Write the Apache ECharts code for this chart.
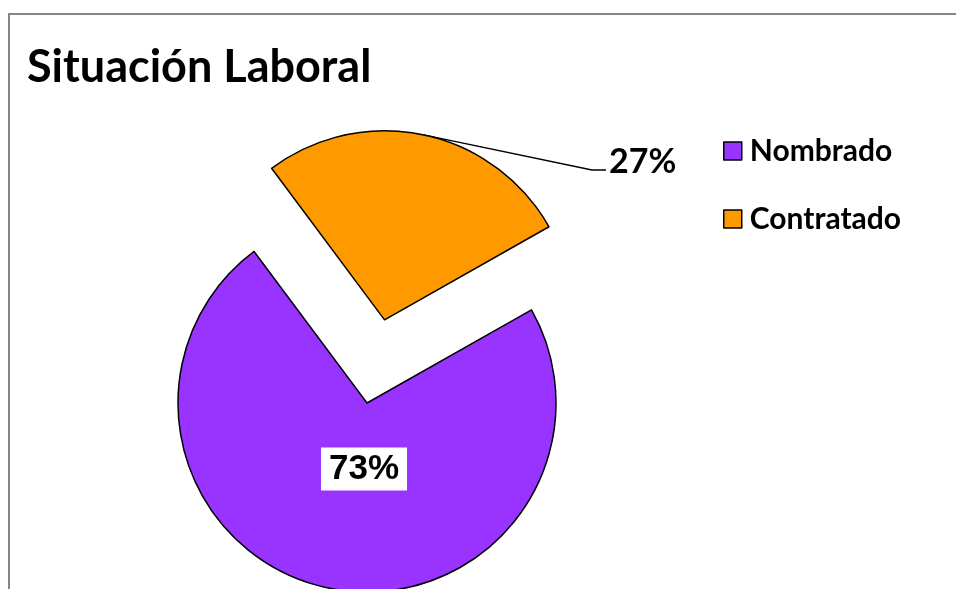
<!DOCTYPE html>
<html>
<head>
<meta charset="utf-8">
<script src="https://cdn.jsdelivr.net/npm/echarts@6/dist/echarts.min.js"></script>
<style>
  html, body { margin: 0; padding: 0; background: #ffffff; }
  #main { width: 956px; height: 589px; }
</style>
</head>
<body>
<div id="main"></div>
<script>
// Employment situation shares
const categories = ['Nombrado', 'Contratado'];
const values = [73, 27];
const colors = ['#9933FF', '#FF9900'];
const titleText = 'Situación Laboral';

const chart = echarts.init(document.getElementById('main'), null, { renderer: 'canvas' });

// Pie geometry
const pieCenter = [367, 403];
const pieRadius = 189;
const startAngle = 29.5;      // degrees, counter-clockwise from 3 o'clock
const explodeIndex = 1;       // Contratado is pulled out of the pie
const explodeDist = 85;

// Direction of the exploded slice's bisector, from the data
const total = values.reduce((a, b) => a + b, 0);
const before = values.slice(0, explodeIndex).reduce((a, b) => a + b, 0);
const midDeg = startAngle - (before + values[explodeIndex] / 2) / total * 360;
const midRad = midDeg * Math.PI / 180;
const explodedCenter = [
  pieCenter[0] + Math.cos(midRad) * explodeDist,
  pieCenter[1] - Math.sin(midRad) * explodeDist
];

const hiddenItem = {
  itemStyle: { color: 'transparent', borderWidth: 0 },
  label: { show: false },
  labelLine: { show: false }
};

// Each series draws one visible slice; the other slice only reserves its angle
function sliceData(visibleIndex, labelOpt) {
  return categories.map((name, i) => {
    if (i !== visibleIndex) {
      return Object.assign({ name: name, value: values[i] }, hiddenItem);
    }
    return {
      name: name,
      value: values[i],
      itemStyle: { color: colors[i], borderColor: '#000000', borderWidth: 1.5 },
      label: labelOpt
    };
  });
}

const baseSeries = {
  type: 'pie',
  radius: pieRadius,
  startAngle: startAngle,
  clockwise: true,
  selectedMode: false,
  silent: true,
  emphasis: { disabled: true },
  label: { show: true, formatter: '{d}%', color: '#000000', fontWeight: 'bold' },
  labelLine: { show: true, smooth: false, lineStyle: { color: '#000000', width: 1.3 } }
};

const option = {
  animation: false,
  backgroundColor: '#ffffff',
  title: {
    text: titleText,
    left: 22,
    top: 40,
    textStyle: { fontFamily: 'Lato', fontWeight: 'bold', fontSize: 45, color: '#000000' }
  },
  legend: {
    orient: 'vertical',
    left: 718,
    top: 131,
    icon: 'rect',
    itemWidth: 18,
    itemHeight: 18,
    itemGap: 38,
    selectedMode: false,
    textStyle: { fontFamily: 'Lato', fontWeight: 'bold', fontSize: 30, color: '#000000', padding: [0, 0, 0, 3] },
    data: categories.map((name, i) => ({
      name: name,
      itemStyle: { color: colors[i], borderColor: '#000000', borderWidth: 1.5 }
    }))
  },
  graphic: [{
    type: 'rect',
    silent: true,
    z: -10,
    shape: { x: 9, y: 14, width: 1000, height: 1000 },
    style: { fill: 'none', stroke: '#868686', lineWidth: 2 }
  }],
  series: [
    Object.assign({}, baseSeries, {
      name: 'Nombrado',
      center: pieCenter,
      data: sliceData(0, {
        show: true,
        position: 'inside',
        backgroundColor: '#ffffff',
        padding: [4, 8, 4, 8],
        fontFamily: 'Liberation Sans',
        fontSize: 35
      }),
      labelLayout: function (p) {
        if (p.dataIndex !== 0) return {};
        return { x: 364, y: 469, align: 'center', verticalAlign: 'middle' };
      }
    }),
    Object.assign({}, baseSeries, {
      name: 'Contratado',
      center: explodedCenter,
      data: sliceData(1, {
        show: true,
        position: 'outside',
        fontFamily: 'Lato',
        fontSize: 34
      }),
      labelLayout: function (p) {
        if (p.dataIndex !== 1) return {};
        const start = p.labelLinePoints[0];
        return {
          x: 609, y: 162, align: 'left', verticalAlign: 'middle',
          labelLinePoints: [start, [592, 170], [606, 170]]
        };
      }
    })
  ]
};

chart.setOption(option);
</script>
</body>
</html>
